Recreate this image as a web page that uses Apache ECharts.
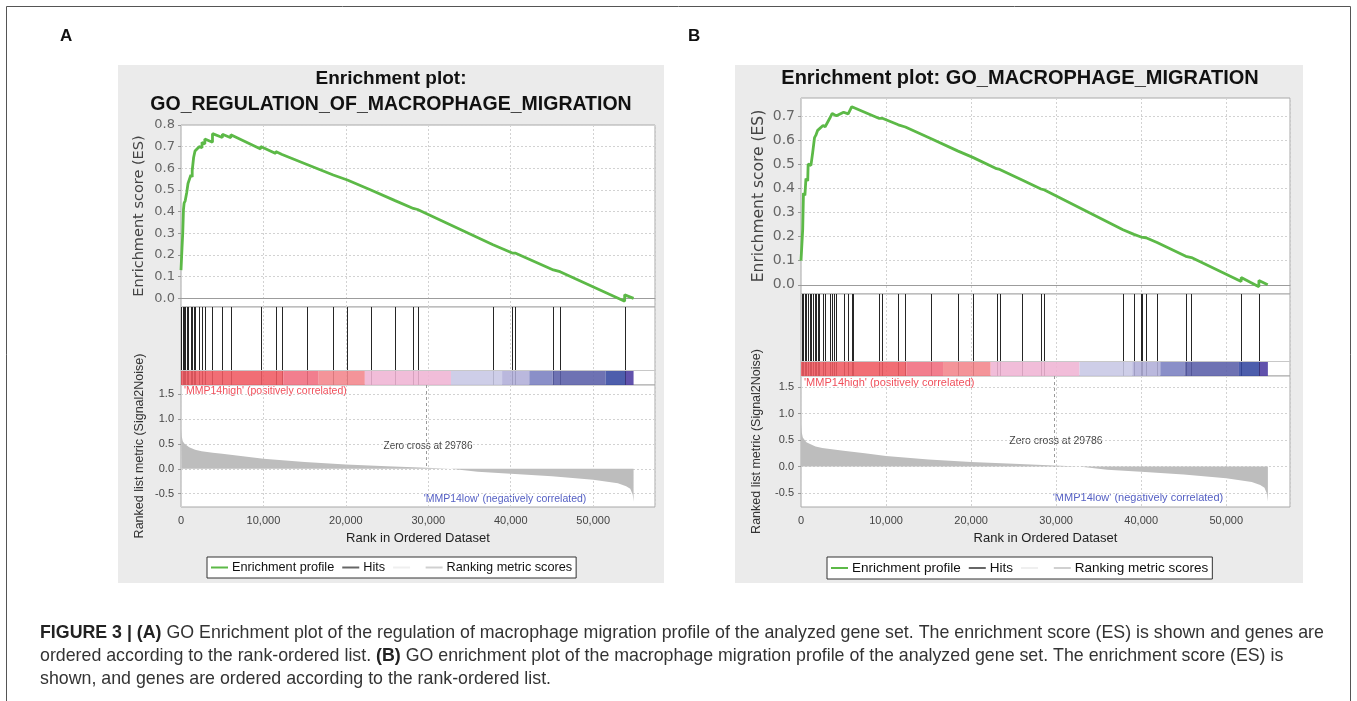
<!DOCTYPE html>
<html>
<head>
<meta charset="utf-8">
<title>GSEA enrichment plots</title>
<script src="https://cdn.jsdelivr.net/npm/echarts@6/dist/echarts.min.js"></script>
<style>
  html, body { margin: 0; padding: 0; background: #fff; }
  #main { width: 1357px; height: 701px; }
</style>
</head>
<body>
<div id="main"></div>
<script>
// ---- data ----
// enrichment score, panel A: [rank, ES]
const esA = [
  [0, 0.13], [120, 0.23], [210, 0.30], [300, 0.41], [380, 0.44], [510, 0.45], [680, 0.445],
  [700, 0.49], [850, 0.53], [1200, 0.57], [1360, 0.56], [1360, 0.59], [1530, 0.65], [1700, 0.68],
  [2210, 0.70], [2550, 0.695], [2550, 0.72], [2890, 0.712], [2890, 0.735], [3820, 0.72], [3820, 0.76],
  [5020, 0.742], [5020, 0.757], [6040, 0.741], [6040, 0.755],
  [9660, 0.689], [9660, 0.701], [11490, 0.668], [11490, 0.678], [12260, 0.664], [12260, 0.673],
  [15280, 0.618], [15280, 0.627], [18470, 0.569], [18470, 0.577], [20180, 0.546], [20180, 0.552],
  [23030, 0.500], [23030, 0.505], [25970, 0.451], [25970, 0.455], [28180, 0.415], [28180, 0.419],
  [28700, 0.410], [28700, 0.414], [37850, 0.247], [37850, 0.252], [40190, 0.209], [40190, 0.215],
  [40530, 0.209], [40530, 0.215], [45170, 0.131], [45170, 0.138], [45980, 0.123], [45980, 0.130],
  [53820, -0.013], [53820, 0.016], [54900, 0.0]
]
// enrichment score, panel B
const esB = [
  [0, 0.10], [125, 0.10], [200, 0.23], [290, 0.38], [460, 0.37], [580, 0.44], [790, 0.43],
  [840, 0.50], [1170, 0.495], [1380, 0.55], [1590, 0.61], [1750, 0.62], [1960, 0.64], [2170, 0.635],
  [2590, 0.66], [2840, 0.655], [3380, 0.69], [3670, 0.71], [4170, 0.70], [5010, 0.715], [5550, 0.708],
  [5970, 0.738], [6090, 0.745],
  [9140, 0.690], [9140, 0.698], [9560, 0.690], [9560, 0.697], [11440, 0.663], [11440, 0.669],
  [12270, 0.654], [12270, 0.660], [15320, 0.605], [15320, 0.611], [18410, 0.555], [18410, 0.560],
  [20200, 0.528], [20200, 0.532], [23000, 0.481], [23000, 0.485], [23370, 0.478], [23370, 0.482],
  [26000, 0.434], [26000, 0.437], [28220, 0.397], [28220, 0.400], [28630, 0.393], [28630, 0.396],
  [37860, 0.228], [37860, 0.232], [39150, 0.209], [39150, 0.213], [39990, 0.198], [39990, 0.202],
  [40150, 0.199], [40150, 0.203], [40570, 0.195], [40570, 0.199], [41870, 0.175], [41870, 0.180],
  [45250, 0.118], [45250, 0.125], [45910, 0.113], [45910, 0.120], [51760, 0.014], [51760, 0.030],
  [53840, -0.008], [53840, 0.018], [54880, 0.0]
]
// positions of the gene set members in the ranked list
const hitsA = [30, 210, 380, 510, 680, 850, 1200, 1360, 1530, 1700, 2210, 2550, 2890, 3820, 5020, 6040,
  9660, 11490, 12260, 15280, 18470, 20180, 23030, 25970, 28180, 28700, 37850, 40190, 40530, 45170, 45980, 53820]
const hitsB = [125, 290, 460, 630, 790, 1000, 1170, 1380, 1590, 1750, 1960, 2170, 2590, 2840, 3380, 3670,
  3840, 4170, 5010, 5550, 5970, 6090, 9140, 9560, 11440, 12270, 15320, 18410, 20200, 23000, 23370, 26000,
  28220, 28630, 37860, 39150, 39990, 40150, 40570, 41870, 45250, 45910, 51760, 53840]
// ranked list metric (same list in both panels)
const metricRank = [0, 85, 214, 427, 640, 1000, 1710, 2500, 3850, 5000, 7500, 10000, 15000, 20000, 25000,
  29786, 29786, 32700, 32700, 36000, 40000, 45000, 50000, 53000, 54000, 54500, 54800, 54900, 54900]
const metricValue = [0.80, 0.65, 0.55, 0.50, 0.46, 0.43, 0.38, 0.35, 0.32, 0.30, 0.25, 0.20, 0.135, 0.088, 0.052,
  0.022, 0, 0, -0.03, -0.06, -0.10, -0.15, -0.22, -0.29, -0.35, -0.40, -0.52, -0.66, 0]
// colour bar under the hits
const barEdges = [0, 12400, 16700, 22300, 32750, 38950, 42250, 45080, 51500, 53900, 54900]
const barColors = ['#ef5a62', '#f06c7e', '#f3858b', '#efb4d4', '#c7c7e5', '#b0aed8', '#7a80c0', '#5a5fa9', '#3448a0', '#4b3aa0']
// ticks
const esTicksA = [0, 0.1, 0.2, 0.3, 0.4, 0.5, 0.6, 0.7, 0.8]
const esTicksB = [0, 0.1, 0.2, 0.3, 0.4, 0.5, 0.6, 0.7]
const metricTicks = [-0.5, 0, 0.5, 1.0, 1.5]
const zeroCross = 29786

const FONT = '"Liberation Sans", Arial, sans-serif'
const chart = echarts.init(document.getElementById('main'))

const barSegments = barColors.map((c, i) => [barEdges[i], barEdges[i + 1], i])
barSegments.push([0, 57500, -1]) // frame line above the bar

function renderHit (params, api) {
  const cs = params.coordSys
  const x = Math.round(api.coord([api.value(0), 0])[0]) + 0.5
  return {
    type: 'line',
    shape: { x1: x, y1: cs.y, x2: x, y2: cs.y + cs.height },
    style: { stroke: '#262626', lineWidth: 1 }
  }
}
function renderBar (params, api) {
  const cs = params.coordSys
  const x0 = api.coord([api.value(0), 0])[0]
  const x1 = api.coord([api.value(1), 0])[0]
  const y = cs.y + cs.height - 15
  if (api.value(2) < 0) {
    return {
      type: 'line',
      shape: { x1: x0, y1: y + 0.5, x2: x1, y2: y + 0.5 },
      style: { stroke: '#c8c8c8', lineWidth: 1 }
    }
  }
  return {
    type: 'rect',
    shape: { x: x0, y: y, width: x1 - x0, height: 15 },
    style: { fill: barColors[api.value(2)], opacity: 0.88 }
  }
}

const fmtRank = v => String(v).replace(/\B(?=(\d{3})+(?!\d))/g, ',')
const dashed = { show: true, lineStyle: { color: '#d2d2d2', type: [2, 2], width: 1 } }

function xAxisFor (gridIndex, withLabels, zeroLine) {
  return {
    type: 'value', gridIndex: gridIndex, min: 0, max: 57500, interval: 10000,
    axisLine: { show: zeroLine, onZero: true, lineStyle: { color: '#9c9c9c' } },
    axisTick: { show: false },
    axisLabel: { show: withLabels, showMaxLabel: false, formatter: fmtRank, color: '#444', fontFamily: FONT, fontSize: 11, margin: 8 },
    splitLine: dashed,
    name: withLabels ? 'Rank in Ordered Dataset' : '',
    nameLocation: 'middle', nameGap: 25,
    nameTextStyle: { color: '#222', fontFamily: FONT, fontSize: 13 }
  }
}
function esAxis (gridIndex, min, max, ticks, size) {
  return {
    type: 'value', gridIndex: gridIndex, min: min, max: max,
    axisLine: { show: false },
    axisTick: { show: true, length: 3, customValues: ticks, lineStyle: { color: '#999' } },
    axisLabel: { customValues: ticks, formatter: v => v.toFixed(1), color: '#666', fontFamily: '"DejaVu Sans", sans-serif', fontSize: size, margin: 6 },
    splitLine: dashed,
    name: 'Enrichment score (ES)', nameLocation: 'middle', nameRotate: 90, nameGap: 34,
    nameTextStyle: { color: '#444', fontFamily: '"DejaVu Sans", sans-serif', fontSize: size + 1.5 }
  }
}
function metricAxis (gridIndex, min, max, gap) {
  return {
    type: 'value', gridIndex: gridIndex, min: min, max: max,
    axisLine: { show: false },
    axisTick: { show: true, length: 3, customValues: metricTicks, lineStyle: { color: '#999' } },
    axisLabel: { customValues: metricTicks, formatter: v => v.toFixed(1), color: '#444', fontFamily: FONT, fontSize: 11, margin: 7 },
    splitLine: dashed,
    name: 'Ranked list metric (Signal2Noise)', nameLocation: 'middle', nameRotate: 90, nameGap: gap,
    nameTextStyle: { color: '#333', fontFamily: FONT, fontSize: 12.5 }
  }
}
const hitsAxis = g => ({ type: 'value', gridIndex: g, min: 0, max: 1, show: false })

const plotGrid = { show: true, backgroundColor: '#fff', borderColor: '#a8a8a8', borderWidth: 1 }
const grids = [
  { left: 181, top: 125, width: 474, height: 182 },
  { left: 181, top: 307, width: 474, height: 78 },
  { left: 181, top: 385, width: 474, height: 122 },
  { left: 801, top: 98, width: 489, height: 196 },
  { left: 801, top: 294, width: 489, height: 82 },
  { left: 801, top: 376, width: 489, height: 131 }
].map(g => Object.assign({}, plotGrid, g))

function panelSeries (offset, es, hits) {
  const metricMax = offset === 0 ? 1.68 : 1.71
  return [
    {
      type: 'line', name: 'Enrichment profile', xAxisIndex: offset, yAxisIndex: offset,
      data: es, showSymbol: false, symbol: 'none', z: 5,
      lineStyle: { color: '#5cb947', width: 2.8 }, itemStyle: { color: '#5cb947' }
    },
    {
      type: 'custom', name: 'Hits', xAxisIndex: offset + 1, yAxisIndex: offset + 1,
      data: hits.map(h => [h, 1]), renderItem: renderHit, encode: { x: 0, y: 1 }, silent: true
    },
    {
      type: 'custom', name: ' ', xAxisIndex: offset + 1, yAxisIndex: offset + 1, z: 3,
      data: barSegments, renderItem: renderBar, encode: { x: [0, 1] }, silent: true
    },
    {
      type: 'line', name: 'Ranking metric scores', xAxisIndex: offset + 2, yAxisIndex: offset + 2,
      data: metricRank.map((r, i) => [r, metricValue[i]]), showSymbol: false, symbol: 'none',
      lineStyle: { width: 0, color: '#bdbdbd' }, itemStyle: { color: '#bdbdbd' },
      areaStyle: { color: '#bdbdbd', opacity: 1, origin: 0 },
      markLine: {
        silent: true, symbol: 'none', label: { show: false },
        lineStyle: { color: '#9a9a9a', type: [3, 3], width: 1 },
        data: [[{ coord: [zeroCross, metricMax] }, { coord: [zeroCross, 0] }]]
      }
    }
  ]
}

const legendData = [
  { name: 'Enrichment profile', icon: 'rect', itemStyle: { color: '#5cb947' } },
  { name: 'Hits', icon: 'rect', itemStyle: { color: '#666' } },
  { name: ' ', icon: 'rect', itemStyle: { color: '#efefef' } },
  { name: 'Ranking metric scores', icon: 'rect', itemStyle: { color: '#d0d0d0' } }
]
function legendAt (left, size) {
  return {
    left: left, top: 557, orient: 'horizontal', selectedMode: false,
    data: legendData, itemWidth: 17, itemHeight: 2, itemGap: 8,
    padding: [4, 4, 4, 4], backgroundColor: '#fff', borderColor: '#333', borderWidth: 1,
    textStyle: { color: '#111', fontFamily: FONT, fontSize: size, padding: [0, 0, 0, -1] }
  }
}

function txt (x, y, text, font, fill, align) {
  return { type: 'text', x: x, y: y, silent: true, style: { text: text, font: font, fill: fill, align: align || 'left', verticalAlign: 'middle' } }
}
const bold = s => '{b|' + s + '}'
const captionRich = { b: { fontWeight: 'bold', fontSize: 17.8, fontFamily: FONT, fill: '#222' } }
function captionLine (y, text) {
  return { type: 'text', x: 40, y: y, silent: true, style: { text: text, rich: captionRich, font: '17.8px ' + FONT, fill: '#333', verticalAlign: 'middle' } }
}

const option = {
  animation: false,
  backgroundColor: '#fff',
  grid: grids,
  xAxis: [xAxisFor(0, false, true), xAxisFor(1, false, false), xAxisFor(2, true, false),
    xAxisFor(3, false, true), xAxisFor(4, false, false), xAxisFor(5, true, false)],
  yAxis: [esAxis(0, -0.04, 0.8, esTicksA, 13), hitsAxis(1), metricAxis(2, -0.766, 1.68, 35),
    esAxis(3, -0.038, 0.774, esTicksB, 14), hitsAxis(4), metricAxis(5, -0.764, 1.71, 38)],
  legend: [legendAt(207, 12.7), legendAt(827, 13.5)],
  series: panelSeries(0, esA, hitsA).concat(panelSeries(3, esB, hitsB)),
  graphic: [
    { type: 'rect', z: -10, silent: true, shape: { x: 6.5, y: 6.5, width: 1344, height: 720 }, style: { fill: '#fff', stroke: '#555', lineWidth: 1 } },
    { type: 'rect', z: -9, silent: true, shape: { x: 118, y: 65, width: 546, height: 518 }, style: { fill: '#ebebeb' } },
    { type: 'rect', z: -9, silent: true, shape: { x: 735, y: 65, width: 568, height: 518 }, style: { fill: '#ebebeb' } },
    txt(60, 36, 'A', 'bold 17px ' + FONT, '#111'),
    txt(688, 36, 'B', 'bold 17px ' + FONT, '#111'),
    txt(391, 79, 'Enrichment plot:', 'bold 19px ' + FONT, '#111', 'center'),
    txt(391, 105, 'GO_REGULATION_OF_MACROPHAGE_MIGRATION', 'bold 19.5px ' + FONT, '#111', 'center'),
    txt(1020, 78, 'Enrichment plot: GO_MACROPHAGE_MIGRATION', 'bold 20px ' + FONT, '#111', 'center'),
    txt(184, 391, "'MMP14high' (positively correlated)", '10.5px ' + FONT, '#f0505c'),
    txt(505, 499, "'MMP14low' (negatively correlated)", '10.5px ' + FONT, '#5560c4', 'center'),
    txt(428, 446, 'Zero cross at 29786', '10px ' + FONT, '#444', 'center'),
    txt(804, 383, "'MMP14high' (positively correlated)", '11px ' + FONT, '#f0505c'),
    txt(1138, 498, "'MMP14low' (negatively correlated)", '11px ' + FONT, '#5560c4', 'center'),
    txt(1056, 441, 'Zero cross at 29786', '10.5px ' + FONT, '#444', 'center'),
    captionLine(633, bold('FIGURE 3 | (A)') + ' GO Enrichment plot of the regulation of macrophage migration profile of the analyzed gene set. The enrichment score (ES) is shown and genes are'),
    captionLine(656, 'ordered according to the rank-ordered list. ' + bold('(B)') + ' GO enrichment plot of the macrophage migration profile of the analyzed gene set. The enrichment score (ES) is'),
    captionLine(679, 'shown, and genes are ordered according to the rank-ordered list.')
  ]
}
chart.setOption(option)
</script>
</body>
</html>
